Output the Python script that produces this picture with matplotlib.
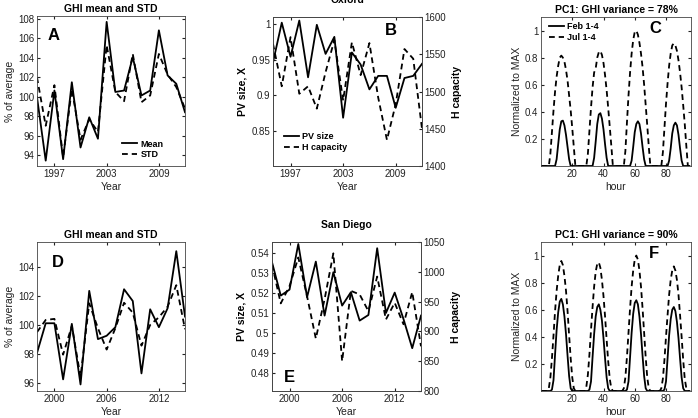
import matplotlib
matplotlib.use("Agg")
import matplotlib.pyplot as plt
from matplotlib.ticker import FuncFormatter

plt.rcParams['font.family'] = ['Liberation Sans', 'DejaVu Sans']
plt.rcParams['font.size'] = 7
plt.rcParams['xtick.direction'] = 'in'
plt.rcParams['ytick.direction'] = 'in'
plt.rcParams['xtick.major.size'] = 2.5
plt.rcParams['ytick.major.size'] = 2.5
plt.rcParams['axes.linewidth'] = 0.6

# Oxford (top row)
years_ox = list(range(1995, 2013))
ghi_mean_ox = [99.97, 93.45, 100.65, 93.6, 101.5, 94.8, 97.9, 95.7, 107.7, 100.5,
               100.65, 104.08, 100.14, 100.65, 106.83, 102.2, 101.34, 98.42]
ghi_std_ox = [102.0, 97.03, 101.2, 93.8, 100.8, 95.6, 97.7, 96.4, 105.3, 100.5,
              99.55, 104.4, 99.45, 100.14, 104.4, 102.3, 101.0, 98.8]
pv_ox = [0.946, 1.002, 0.954, 1.005, 0.925, 0.999, 0.958, 0.982, 0.868, 0.960,
         0.943, 0.908, 0.927, 0.927, 0.882, 0.924, 0.927, 0.944]
hcap_ox = [1564, 1507, 1573, 1497, 1507, 1477, 1526, 1569, 1488, 1566,
           1522, 1565, 1492, 1435, 1483, 1557, 1544, 1450]

# San Diego (bottom row)
years_sd = list(range(1998, 2016))
ghi_mean_sd = [98.07, 100.11, 100.11, 96.25, 100.07, 95.9, 102.34, 99.02, 99.25, 99.84,
               102.45, 101.64, 96.66, 101.07, 99.84, 101.14, 105.07, 100.57]
ghi_std_sd = [99.5, 100.34, 100.41, 97.95, 99.93, 96.43, 101.48, 99.77, 98.3, 99.77,
              101.52, 100.84, 98.57, 100.0, 100.52, 101.25, 102.73, 99.7]
pv_sd = [0.5352, 0.5185, 0.5215, 0.5443, 0.5177, 0.5355, 0.5085, 0.5302, 0.5135, 0.5202,
         0.506, 0.5088, 0.5422, 0.5098, 0.520, 0.5068, 0.4922, 0.5085]
hcap_sd = [1012, 947, 976, 1024, 959, 888, 954, 1031, 850, 968,
           962, 934, 992, 920, 948, 912, 966, 875]

# PC1 hourly profiles (4 days each)
hours = list(range(96))
feb_ox = ([0, 0, 0, 0, 0, 0, 0, 0, 0, 0, .05, .16, .27, .33, .335, .30, .23, .14, .05, 0, 0, 0, 0, 0]
          + [0, 0, 0, 0, 0, 0, 0, 0, 0, 0, .06, .18, .31, .38, .39, .35, .27, .16, .06, 0, 0, 0, 0, 0]
          + [0, 0, 0, 0, 0, 0, 0, 0, 0, 0, .04, .14, .25, .31, .33, .31, .24, .14, .05, 0, 0, 0, 0, 0]
          + [0, 0, 0, 0, 0, 0, 0, 0, 0, 0, .04, .13, .24, .30, .32, .30, .23, .13, .04, 0, 0, 0, 0, 0])
jul_ox = ([0, 0, 0, 0, 0, 0, .09, .25, .41, .55, .66, .74, .80, .815, .80, .77, .71, .63, .52, .41, .28, .14, 0, 0]
          + [0, 0, 0, 0, 0, 0, .09, .26, .43, .58, .69, .72, .80, .84, .85, .82, .76, .67, .56, .43, .29, .15, 0, 0]
          + [0, 0, 0, 0, 0, 0, .11, .32, .52, .69, .83, .93, .99, 1.0, .97, .91, .83, .73, .60, .45, .30, .14, 0, 0]
          + [0, 0, 0, 0, 0, 0, .10, .28, .46, .61, .74, .83, .89, .906, .89, .85, .78, .69, .58, .45, .31, .15, 0, 0])
feb_sd = ([0, 0, 0, 0, 0, 0, 0, .01, .08, .27, .45, .58, .66, .68, .64, .55, .42, .26, .11, .02, 0, 0, 0, 0]
          + [0, 0, 0, 0, 0, 0, 0, .01, .07, .25, .42, .55, .62, .64, .60, .52, .39, .24, .10, .02, 0, 0, 0, 0]
          + [0, 0, 0, 0, 0, 0, 0, .01, .07, .25, .43, .57, .65, .67, .64, .55, .42, .26, .11, .02, 0, 0, 0, 0]
          + [0, 0, 0, 0, 0, 0, 0, .01, .07, .24, .41, .53, .60, .62, .59, .51, .39, .24, .10, .02, 0, 0, 0, 0])
jul_sd = ([0, 0, 0, 0, 0, .02, .10, .24, .41, .59, .74, .85, .93, .96, .93, .85, .74, .59, .41, .24, .10, .02, 0, 0]
          + [0, 0, 0, 0, 0, .03, .12, .27, .45, .62, .77, .88, .94, .95, .91, .82, .70, .55, .38, .22, .09, .02, 0, 0]
          + [0, 0, 0, 0, 0, .02, .10, .25, .43, .61, .77, .89, .97, 1.0, .97, .89, .77, .61, .43, .25, .10, .02, 0, 0]
          + [0, 0, 0, 0, 0, .02, .09, .23, .40, .56, .71, .82, .89, .92, .89, .82, .71, .56, .40, .23, .09, .02, 0, 0])

lc = 'black'
dash = (0, (3.2, 2.2))
lw = 1.3
gfmt = FuncFormatter(lambda v, p: '%g' % v)

fig = plt.figure(figsize=(6.98, 4.18), dpi=100)

W = 698.0
H = 418.0


def box(x0, y0, x1, y1):
    return [x0 / W, 1 - y1 / H, (x1 - x0) / W, (y1 - y0) / H]


def style(ax, right=True):
    ax.tick_params(top=True, right=right, labelsize=7, pad=2, colors='#222')
    for s in ax.spines.values():
        s.set_color('#444')


def ghi_panel(rect, years, mean, std, ylim, yt, xt, letter, legend):
    ax = fig.add_axes(rect)
    ax.plot(years, mean, color=lc, lw=lw, label='Mean')
    ax.plot(years, std, color=lc, lw=lw, ls=dash, label='STD')
    ax.set_xlim(years[0], years[-1])
    ax.set_ylim(*ylim)
    ax.set_yticks(yt)
    ax.set_xticks(xt)
    ax.set_title('GHI mean and STD', fontsize=7.5, fontweight='bold', pad=3)
    ax.set_ylabel('% of average', fontsize=7.5, labelpad=2, color='#222')
    ax.set_xlabel('Year', fontsize=7.5, labelpad=2, color='#222')
    style(ax)
    ax.text(letter[0], letter[1], letter[2], transform=ax.transAxes, fontsize=12,
            fontweight='bold', ha='center', va='center')
    if legend:
        ax.legend(loc='lower right', frameon=False, handlelength=1.6, handletextpad=0.4,
                  labelspacing=0.2, prop={'weight': 'bold', 'size': 6.5},
                  bbox_to_anchor=(0.91, -0.01))
    return ax


def pv_panel(rect, years, pv, hc, ylim, yt, ylim2, yt2, xt, title, letter, legend):
    ax = fig.add_axes(rect)
    l1, = ax.plot(years, pv, color=lc, lw=lw, label='PV size')
    ax2 = ax.twinx()
    l2, = ax2.plot(years, hc, color=lc, lw=lw, ls=dash, label='H capacity')
    ax.set_xlim(years[0], years[-1])
    ax.set_ylim(*ylim)
    ax.set_yticks(yt)
    ax.yaxis.set_major_formatter(gfmt)
    ax2.set_ylim(*ylim2)
    ax2.set_yticks(yt2)
    ax.set_xticks(xt)
    ax.set_title(title, fontsize=7.5, fontweight='bold', pad=10)
    ax.set_ylabel('PV size, X', fontsize=7.5, fontweight='bold', labelpad=3)
    ax2.set_ylabel('H capacity', fontsize=7.5, fontweight='bold', labelpad=4)
    ax.set_xlabel('Year', fontsize=7.5, labelpad=2, color='#222')
    style(ax, right=False)
    ax2.tick_params(labelsize=7, pad=2, colors='#222')
    for s in ax2.spines.values():
        s.set_color('#444')
    ax.text(letter[0], letter[1], letter[2], transform=ax.transAxes, fontsize=12,
            fontweight='bold', ha='center', va='center')
    if legend:
        ax.legend([l1, l2], ['PV size', 'H capacity'], loc='lower left', frameon=False,
                  handlelength=1.6, handletextpad=0.4, labelspacing=0.2,
                  prop={'weight': 'bold', 'size': 6.5}, bbox_to_anchor=(0.02, 0.04))
    return ax


def pc_panel(rect, feb, jul, title, letter, legend):
    ax = fig.add_axes(rect)
    ax.plot(hours, feb, color=lc, lw=lw, label='Feb 1-4')
    ax.plot(hours, jul, color=lc, lw=lw, ls=dash, label='Jul 1-4')
    ax.set_xlim(0, 96)
    ax.set_ylim(0, 1.1)
    ax.set_yticks([0.2, 0.4, 0.6, 0.8, 1.0])
    ax.yaxis.set_major_formatter(gfmt)
    ax.set_xticks([20, 40, 60, 80])
    ax.set_title(title, fontsize=7.5, fontweight='bold', pad=3)
    ax.set_ylabel('Normalized to MAX', fontsize=7.5, labelpad=2, color='#222')
    ax.set_xlabel('hour', fontsize=7.5, labelpad=2, color='#222')
    style(ax)
    ax.text(letter[0], letter[1], letter[2], transform=ax.transAxes, fontsize=12,
            fontweight='bold', ha='center', va='center')
    if legend:
        ax.legend(loc='upper left', frameon=False, handlelength=1.6, handletextpad=0.4,
                  labelspacing=0.2, prop={'weight': 'bold', 'size': 6.5},
                  bbox_to_anchor=(0.0, 1.02))
    return ax


ghi_panel(box(37, 16, 185, 166), years_ox, ghi_mean_ox, ghi_std_ox, (92.9, 108.3),
          list(range(94, 109, 2)), [1997, 2003, 2009], (0.11, 0.87, 'A'), True)
pv_panel(box(273, 17, 422, 166), years_ox, pv_ox, hcap_ox, (0.8, 1.01), [0.85, 0.9, 0.95, 1.0],
         (1400, 1600), list(range(1400, 1601, 50)), [1997, 2003, 2009], 'Oxford',
         (0.79, 0.91, 'B'), True)
pc_panel(box(541, 17, 691, 166), feb_ox, jul_ox, 'PC1: GHI variance = 78%', (0.76, 0.925, 'C'), True)

ghi_panel(box(37, 242, 185, 391), years_sd, ghi_mean_sd, ghi_std_sd, (95.45, 105.7),
          [96, 98, 100, 102, 104], [2000, 2006, 2012], (0.14, 0.865, 'D'), False)
pv_panel(box(272, 242, 421, 391), years_sd, pv_sd, hcap_sd, (0.4708, 0.5453),
         [0.48, 0.49, 0.5, 0.51, 0.52, 0.53, 0.54], (800, 1050), list(range(800, 1051, 50)),
         [2000, 2006, 2012], 'San Diego', (0.12, 0.09, 'E'), False)
pc_panel(box(541, 242, 691, 391), feb_sd, jul_sd, 'PC1: GHI variance = 90%', (0.75, 0.92, 'F'), False)

fig.savefig('out.png', dpi=100)
